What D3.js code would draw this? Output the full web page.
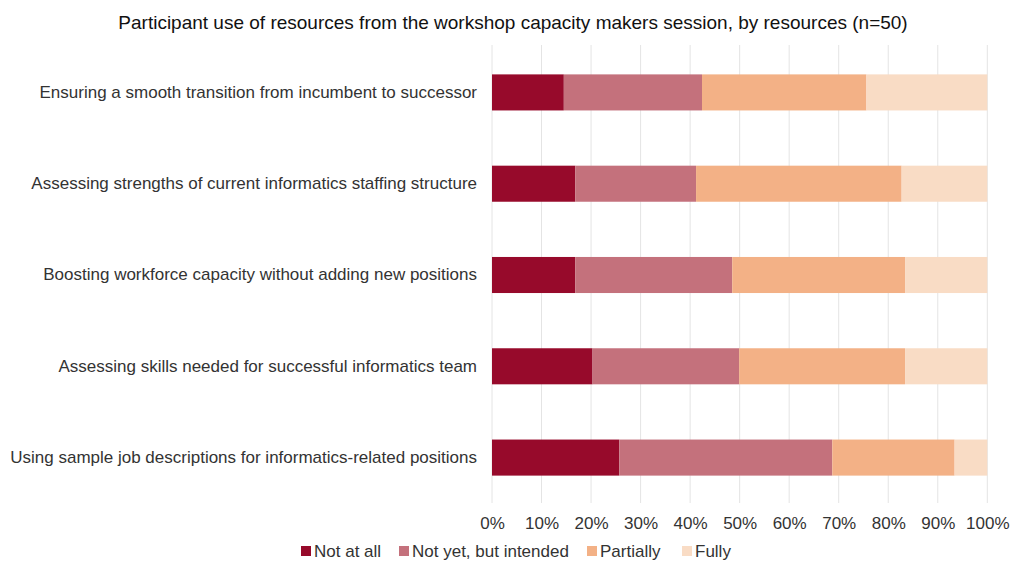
<!DOCTYPE html>
<html>
<head>
<meta charset="utf-8">
<script src="https://cdn.jsdelivr.net/npm/d3@7"></script>
<style>
  html, body { margin: 0; padding: 0; background: #fff; }
  svg { display: block; font-family: "Liberation Sans", Arial, sans-serif; }
</style>
</head>
<body>
<svg id="chart" width="1012" height="562"></svg>
<script>
const title = "Participant use of resources from the workshop capacity makers session, by resources (n=50)";
const categories = [
  "Ensuring a smooth transition from incumbent to successor",
  "Assessing strengths of current informatics staffing structure",
  "Boosting workforce capacity without adding new positions",
  "Assessing skills needed for successful informatics team",
  "Using sample job descriptions for informatics-related positions"
];
const seriesNames = ["Not at all", "Not yet, but intended", "Partially", "Fully"];
const notAtAll     = [14.5, 16.8, 16.8, 20.3, 25.7];
const notYet       = [27.9, 24.4, 31.7, 29.6, 43.0];
const partially    = [33.2, 41.5, 34.9, 33.5, 24.7];
const fully        = [24.4, 17.3, 16.6, 16.6, 6.6];
const tickValues = [0, 10, 20, 30, 40, 50, 60, 70, 80, 90, 100];
const colors = ["#970a2b", "#c4717c", "#f3b186", "#f9dcc5"];

const rows = categories.map((c, i) => ({
  category: c,
  "Not at all": notAtAll[i],
  "Not yet, but intended": notYet[i],
  "Partially": partially[i],
  "Fully": fully[i]
}));

const svg = d3.select("#chart");
const x = d3.scaleLinear().domain([0, 100]).range([492, 987.3]);
const y = d3.scaleBand().domain(categories).range([47, 503]).paddingInner(0.605).paddingOuter(0.3);
const color = d3.scaleOrdinal().domain(seriesNames).range(colors);

// title
svg.append("text")
  .attr("x", 513).attr("y", 29)
  .attr("text-anchor", "middle")
  .attr("font-size", 19)
  .attr("fill", "#111")
  .text(title);

// gridlines
svg.append("g").selectAll("line").data(tickValues).join("line")
  .attr("x1", d => x(d)).attr("x2", d => x(d))
  .attr("y1", 45).attr("y2", 503)
  .attr("stroke", "#e4e4e4").attr("stroke-width", 1);

// bars
const stack = d3.stack().keys(seriesNames);
const stacked = stack(rows);
svg.append("g").selectAll("g").data(stacked).join("g")
  .attr("fill", d => color(d.key))
  .selectAll("rect").data(d => d).join("rect")
  .attr("x", d => x(d[0]))
  .attr("width", d => x(d[1]) - x(d[0]))
  .attr("y", d => y(d.data.category))
  .attr("height", y.bandwidth());

// category axis
const yAxis = d3.axisLeft(y).tickSize(0).tickPadding(15);
const gy = svg.append("g").attr("transform", "translate(492,0)").call(yAxis);
gy.select(".domain").remove();
gy.selectAll("text").attr("font-size", 17).attr("fill", "#333")
  .attr("font-family", "Liberation Sans, Arial, sans-serif");

// x axis
const xAxis = d3.axisBottom(x).tickValues(tickValues).tickSize(0).tickPadding(14).tickFormat(d => d + "%");
const gx = svg.append("g").attr("transform", "translate(0,503)").call(xAxis);
gx.select(".domain").remove();
gx.selectAll("text").attr("font-size", 17).attr("fill", "#333")
  .attr("font-family", "Liberation Sans, Arial, sans-serif");

// legend
const legendX = [301, 399, 587, 682];
const lg = svg.append("g").selectAll("g").data(seriesNames).join("g")
  .attr("transform", (d, i) => `translate(${legendX[i]},546)`);
lg.append("rect").attr("width", 10).attr("height", 10).attr("fill", d => color(d));
lg.append("text").attr("x", 13).attr("y", 5).attr("dy", "0.35em")
  .attr("font-size", 17).attr("fill", "#333").text(d => d);
</script>
</body>
</html>
